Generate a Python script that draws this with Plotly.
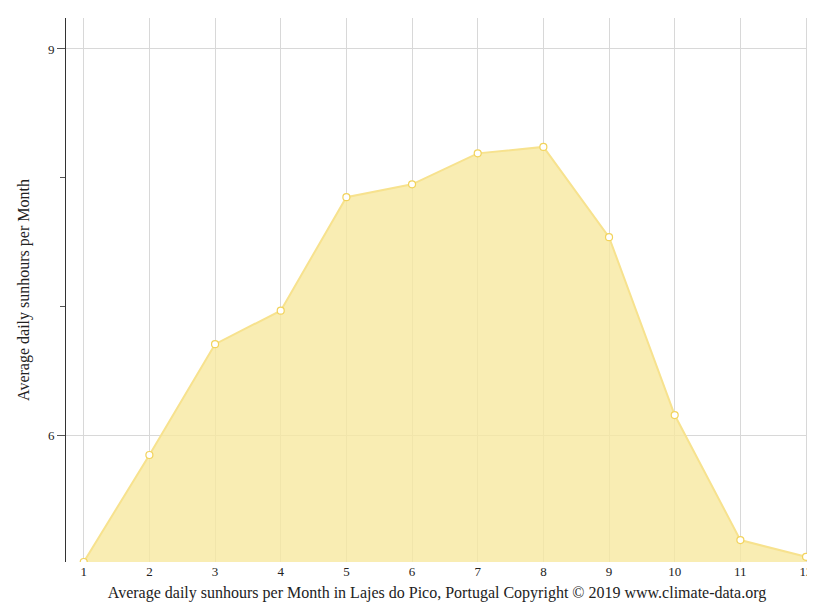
import plotly.graph_objects as go

months = [1, 2, 3, 4, 5, 6, 7, 8, 9, 10, 11, 12]
sunhours = [5.02, 5.85, 6.71, 6.97, 7.85, 7.95, 8.19, 8.24, 7.54, 6.16, 5.19, 5.06]

fig = go.Figure(go.Scatter(
    x=months, y=sunhours, mode="lines+markers", fill="tozeroy",
    fillcolor="rgba(248,232,160,0.8)",
    line=dict(color="#f7e28e", width=2),
    marker=dict(size=7, color="white", line=dict(color="#f2d35c", width=1.2)),
))
fig.update_layout(
    width=815, height=611, margin=dict(l=58, r=15, t=10, b=57),
    plot_bgcolor="white", paper_bgcolor="white", showlegend=False,
    font=dict(family="Liberation Serif", size=13, color="#222"),
)
fig.update_xaxes(range=[0.73, 12.03], tickvals=months, showgrid=True, gridcolor="#d8d8d8",
                 ticks="", showline=False, zeroline=False,
                 title=dict(text="Average daily sunhours per Month in Lajes do Pico, Portugal Copyright © 2019 www.climate-data.org",
                            font=dict(size=16), standoff=8))
fig.update_yaxes(range=[5.02, 9.24], tickvals=[6, 9], showgrid=True, gridcolor="#d8d8d8",
                 ticks="outside", ticklen=8, tickcolor="#555", showline=True, linecolor="#333",
                 zeroline=False, minor=dict(tickvals=[7, 8], ticks="outside", ticklen=5, tickcolor="#555", showgrid=False),
                 title=dict(text="Average daily sunhours per Month", font=dict(size=16), standoff=14))
fig.write_html("out.html")
